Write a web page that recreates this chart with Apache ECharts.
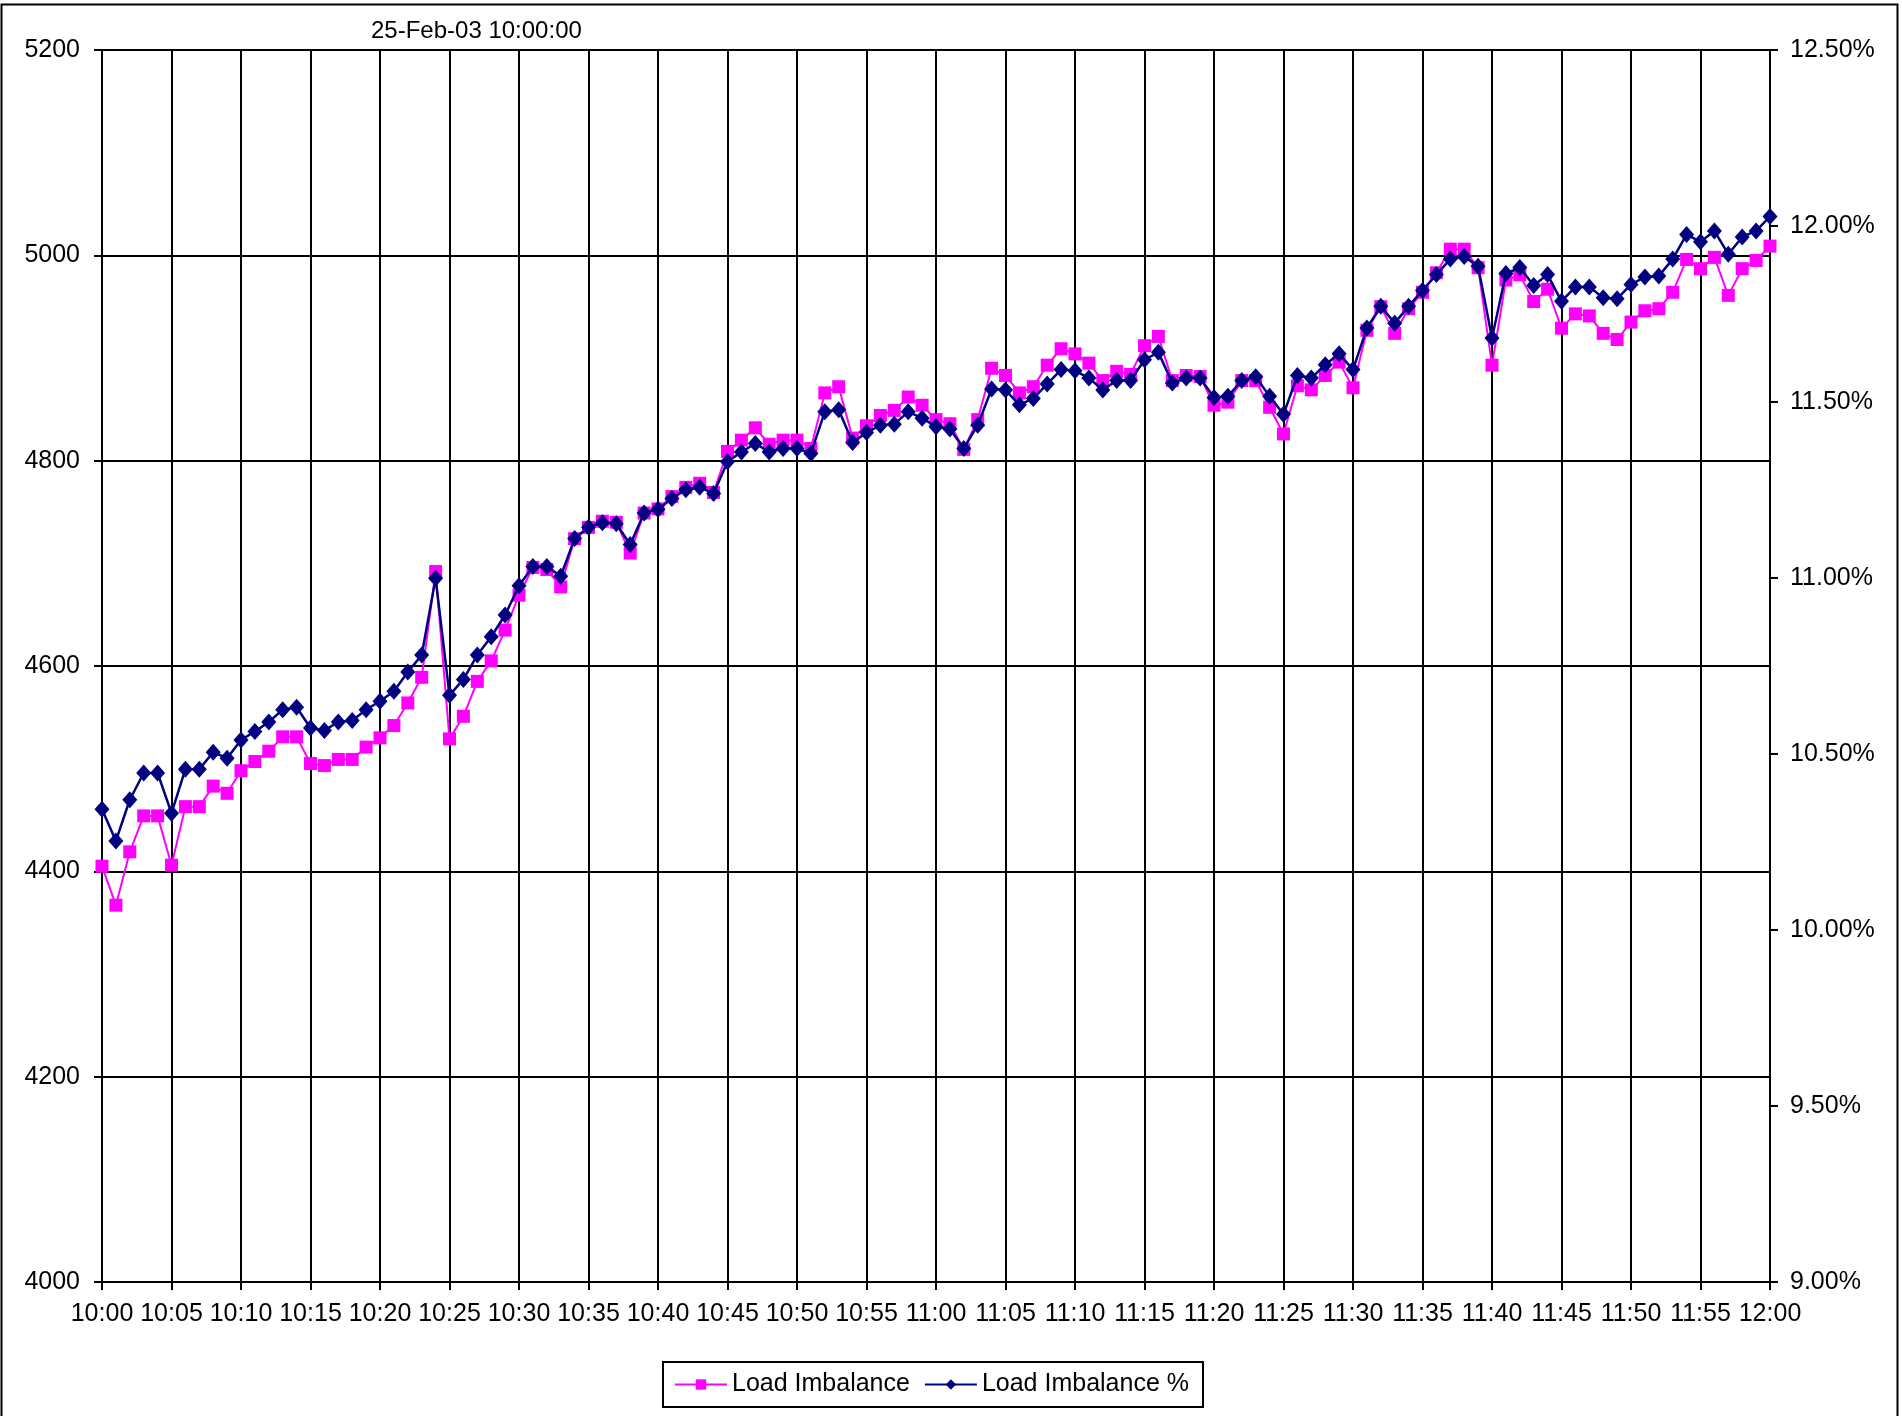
<!DOCTYPE html>
<html>
<head>
<meta charset="utf-8">
<script src="https://cdn.jsdelivr.net/npm/echarts@6/dist/echarts.min.js"></script>
<style>
  html, body { margin: 0; padding: 0; background: #fff; }
  .tu { width: 1902px; height: 1416px; }
</style>
</head>
<body>
<div class="tu"></div>
<script>
// minute-by-minute labels 10:00 .. 12:00
var times = [];
for (var m = 0; m <= 120; m++) {
    var h = 10 + Math.floor(m / 60), mm = m % 60;
    times.push(h + ':' + (mm < 10 ? '0' + mm : mm));
}

var loadImbalance = [
    4405, 4367, 4419, 4454, 4454, 4406, 4463, 4463, 4483, 4476,
    4498, 4507, 4517, 4531, 4531, 4505, 4503, 4509, 4509, 4521,
    4530, 4542, 4564, 4589, 4692, 4529, 4551, 4585, 4605, 4635,
    4669, 4696, 4694, 4677, 4724, 4735, 4741, 4740, 4710, 4749,
    4753, 4765, 4774, 4778, 4769, 4809, 4820, 4832, 4816, 4820,
    4820, 4812, 4866, 4872, 4822, 4834, 4844, 4849, 4862, 4854,
    4840, 4836, 4811, 4840, 4890, 4883, 4866, 4872, 4893, 4909,
    4904, 4895, 4878, 4887, 4884, 4912, 4921, 4878, 4883, 4882,
    4854, 4857, 4878, 4878, 4852, 4826, 4873, 4869, 4883, 4896,
    4871, 4927, 4950, 4924, 4948, 4964, 4983, 5006, 5006, 4988,
    4893, 4976, 4981, 4955, 4967, 4929, 4943, 4941, 4924, 4918,
    4935, 4946, 4948, 4964, 4996, 4987, 4998, 4961, 4987, 4995,
    5009
];

var loadImbalancePct = [
    10.343, 10.253, 10.370, 10.446, 10.446, 10.332, 10.457, 10.457, 10.505, 10.488,
    10.540, 10.564, 10.591, 10.626, 10.633, 10.574, 10.567, 10.591, 10.595, 10.626,
    10.650, 10.678, 10.733, 10.781, 10.999, 10.667, 10.712, 10.781, 10.833, 10.895,
    10.978, 11.033, 11.033, 11.005, 11.112, 11.144, 11.157, 11.154, 11.095, 11.185,
    11.195, 11.226, 11.251, 11.258, 11.240, 11.330, 11.358, 11.382, 11.358, 11.368,
    11.368, 11.354, 11.472, 11.478, 11.385, 11.413, 11.434, 11.437, 11.472, 11.454,
    11.430, 11.423, 11.368, 11.434, 11.537, 11.534, 11.492, 11.510, 11.551, 11.592,
    11.589, 11.568, 11.534, 11.561, 11.561, 11.620, 11.641, 11.554, 11.568, 11.568,
    11.513, 11.516, 11.561, 11.572, 11.516, 11.465, 11.575, 11.568, 11.606, 11.637,
    11.592, 11.710, 11.772, 11.724, 11.772, 11.817, 11.862, 11.906, 11.913, 11.886,
    11.682, 11.865, 11.882, 11.831, 11.862, 11.786, 11.827, 11.827, 11.796, 11.793,
    11.834, 11.855, 11.858, 11.906, 11.976, 11.955, 11.986, 11.920, 11.969, 11.986,
    12.027
];

var chart = echarts.init(document.querySelector('.tu'));
var font = 'Liberation Sans, Arial, sans-serif';

var option = {
    animation: false,
    backgroundColor: '#fff',
    textStyle: { fontFamily: font },
    title: {
        text: '25-Feb-03 10:00:00',
        left: 366,
        top: 14,
        textStyle: { color: '#000', fontSize: 24, fontWeight: 'normal', fontFamily: font }
    },
    graphic: [{
        type: 'rect',
        shape: { x: 1.5, y: 4.5, width: 1896, height: 1430 },
        style: { fill: 'none', stroke: '#000', lineWidth: 2 },
        silent: true
    }],
    legend: {
        left: 663,
        top: 1362,
        padding: [10, 14, 10, 11],
        itemGap: 14,
        itemWidth: 52,
        itemHeight: 13,
        borderColor: '#000',
        borderWidth: 2,
        textStyle: { color: '#000', fontSize: 25, fontFamily: font },
        data: ['Load Imbalance', 'Load Imbalance %']
    },
    grid: {
        left: 102,
        right: 132,
        top: 50,
        bottom: 134
    },
    xAxis: {
        type: 'category',
        boundaryGap: false,
        data: times,
        axisLine: { lineStyle: { color: '#000', width: 2 } },
        axisTick: { interval: 4, length: 8, lineStyle: { color: '#000', width: 2 } },
        axisLabel: { interval: 4, margin: 20, color: '#000', fontSize: 25, fontFamily: font },
        splitLine: { show: true, interval: 4, lineStyle: { color: '#000', width: 2 } }
    },
    yAxis: [{
        type: 'value',
        min: 4000,
        max: 5200,
        interval: 200,
        axisLine: { show: true, lineStyle: { color: '#000', width: 2 } },
        axisTick: { show: true, length: 8, lineStyle: { color: '#000', width: 2 } },
        axisLabel: {
            margin: 22, color: '#000', fontSize: 25, fontFamily: font,
            formatter: function (v) { return String(v); }
        },
        splitLine: { show: true, lineStyle: { color: '#000', width: 2 } }
    }, {
        type: 'value',
        position: 'right',
        min: 9,
        max: 12.5,
        interval: 0.5,
        axisLine: { show: true, lineStyle: { color: '#000', width: 2 } },
        axisTick: { show: true, length: 8, lineStyle: { color: '#000', width: 2 } },
        axisLabel: {
            margin: 20, color: '#000', fontSize: 25, fontFamily: font,
            formatter: function (v) { return v.toFixed(2) + '%'; }
        },
        splitLine: { show: false }
    }],
    series: [{
        name: 'Load Imbalance',
        type: 'line',
        yAxisIndex: 0,
        data: loadImbalance,
        symbol: 'rect',
        symbolSize: 13,
        showAllSymbol: true,
        lineStyle: { color: '#ff00ff', width: 2 },
        itemStyle: { color: '#ff00ff' },
        z: 3
    }, {
        name: 'Load Imbalance %',
        type: 'line',
        yAxisIndex: 1,
        data: loadImbalancePct,
        symbol: 'diamond',
        symbolSize: [15, 17],
        showAllSymbol: true,
        lineStyle: { color: '#000080', width: 2.5 },
        itemStyle: { color: '#000080' },
        z: 4
    }]
};

chart.setOption(option);

window.addEventListener('resize', function () {
    chart.resize();
});
</script>
</body>
</html>
